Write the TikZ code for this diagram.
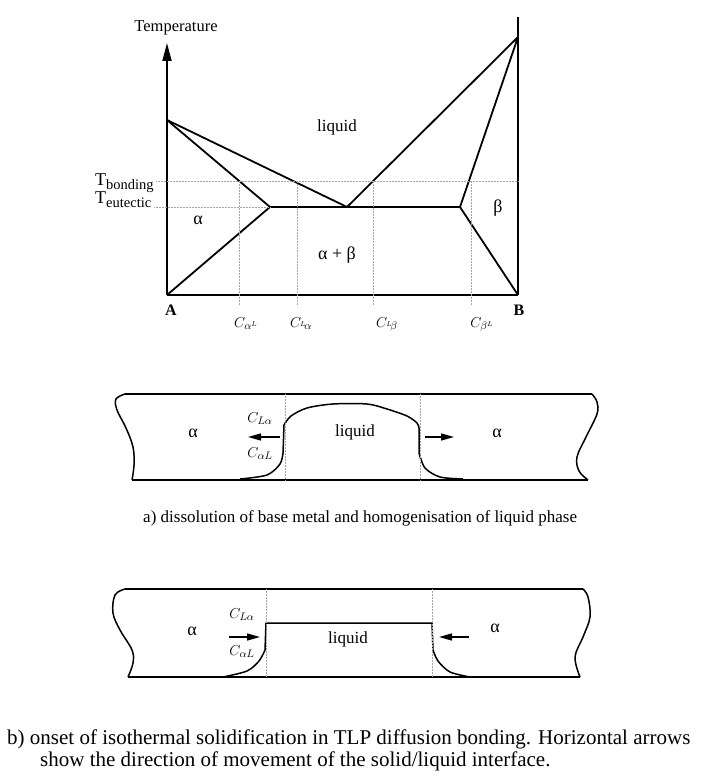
\documentclass[tikz,border=0pt]{standalone}
\usepackage{amsmath}
\usepackage{fontspec}
\setmainfont{Liberation Serif}
\usepackage{tikz}
\usetikzlibrary{arrows.meta, calc}

\begin{document}
\begin{tikzpicture}[
    x=1pt, y=-1pt,
    % line styles
    phase/.style={line width=1.8pt, line join=round},
    guide/.style={densely dotted, gray!70, line width=0.5pt},
    metal/.style={line width=1.5pt, line join=round},
    flow/.style={line width=1.4pt, -{Triangle[length=13pt, width=7pt]}},
    % text styles
    lbl/.style={anchor=base, inner sep=0pt, font=\fontsize{18}{20}\selectfont},
    conc/.style={anchor=base, inner sep=0pt, font=\fontsize{15}{17}\selectfont},
    caption/.style={anchor=base west, inner sep=0pt, font=\fontsize{17}{20}\selectfont}
]
\useasboundingbox (0,0) rectangle (714,775);

% -----------------------------------------------------------
% PHASE DIAGRAM
% -----------------------------------------------------------
\coordinate (A) at (167,295);
\coordinate (B) at (518,295);
\coordinate (Atop) at (167,43);
\coordinate (Btop) at (518,17);
\coordinate (meltA) at (167,120);
\coordinate (meltB) at (518,37);
\coordinate (solA) at (270,207);
\coordinate (eut) at (347,207);
\coordinate (solB) at (460,207);

% axes
\draw[phase, -{Triangle[length=18pt, width=9pt]}] (A) -- (Atop);
\draw[phase] (B) -- (Btop);
\draw[phase] (A) -- (B);

% liquidus, solidus, solvus
\draw[phase] (meltA) -- (eut) -- (meltB) -- (solB) -- (B);
\draw[phase] (meltA) -- (solA) -- (A);
\draw[phase] (solA) -- (solB);

% temperature levels
\coordinate (Tb) at (156,181);
\coordinate (Te) at (154,207);
\draw[guide] (Tb) -- (518,181);
\draw[guide] (Te) -- (solA);

% composition markers
\foreach \cx in {239,297,373,471}
    \draw[guide] (\cx,181) -- (\cx,305);

% labels
\node[lbl, font=\fontsize{16.5}{18}\selectfont] (tlabel) at (176,32) {Temperature};
\node[lbl, font=\fontsize{17}{18}\selectfont] (liqtop) at (337,132) {liquid};
\node[lbl] (alpha) at (198,225) {α};
\node[lbl] (ab) at (337,259) {α + β};
\node[lbl] (beta) at (498,213) {β};
\node[lbl, font=\fontsize{16}{17}\selectfont\bfseries] (Alabel) at (171,315) {A};
\node[lbl, font=\fontsize{16}{17}\selectfont\bfseries] (Blabel) at (519,315) {B};

\node[anchor=base west, inner sep=0pt] (Tbond) at (95,186)
    {\fontsize{18}{18}\selectfont T\raisebox{-4pt}{\fontsize{14.5}{15}\selectfont bonding}};
\node[anchor=base west, inner sep=0pt] (Teut) at (95,204)
    {\fontsize{18}{18}\selectfont T\raisebox{-4pt}{\fontsize{14.5}{15}\selectfont eutectic}};

\node[conc] (caL) at (246,327) {$C_{\alpha^{\scriptscriptstyle L}}$};
\node[conc] (cLa) at (301,327) {$C_{{}^{\scriptscriptstyle L}\!\alpha}$};
\node[conc] (cLb) at (387,327) {$C_{{}^{\scriptscriptstyle L}\!\beta}$};
\node[conc] (cbL) at (482,327) {$C_{\beta^{\scriptscriptstyle L}}$};

% -----------------------------------------------------------
% (a) DISSOLUTION
% -----------------------------------------------------------
\draw[metal] (125,394) -- (592,394);
\draw[metal] (132,480) -- (588,480);
\draw[metal] plot[smooth, tension=0.6] coordinates
    {(125,394) (116,399) (117,410) (126,428) (133,447) (134,465) (132,480)};
\draw[metal] plot[smooth, tension=0.6] coordinates
    {(592,394) (597,402) (597,414) (586,437) (577,457) (579,471) (588,480)};
% liquid zone
\draw[metal] plot[smooth, tension=0.5] coordinates
    {(240,479) (267,475) (280,464) (283,453)}
    -- (284,425)
    plot[smooth, tension=0.5] coordinates
    {(284,425) (291,416) (307,408) (333,404) (367,404) (387,409) (407,416) (417,423) (419,428)}
    -- (419,453)
    plot[smooth, tension=0.5] coordinates
    {(419,453) (425,468) (440,477) (463,479)};
\coordinate (ia1) at (285,394);
\coordinate (ia2) at (420,394);
\draw[guide] (ia1) -- (285,480);
\draw[guide] (ia2) -- (420,480);

\coordinate (aw1) at (280,437);
\coordinate (aw2) at (248,437);
\coordinate (ae1) at (425,437);
\coordinate (ae2) at (454,437);
\draw[flow] (aw1) -- (aw2);
\draw[flow] (ae1) -- (ae2);

\node[lbl] (alphaAL) at (193,437) {α};
\node[lbl, font=\fontsize{17}{18}\selectfont] (liqA) at (355,436) {liquid};
\node[lbl] (alphaAR) at (497,437) {α};
\node[conc] (cLaA) at (260,422) {$C_{L\alpha}$};
\node[conc] (caLA) at (260,457) {$C_{\alpha L}$};

\node[caption] (capA) at (143,522) {a) dissolution of base metal and homogenisation of liquid phase};

% -----------------------------------------------------------
% (b) ISOTHERMAL SOLIDIFICATION
% -----------------------------------------------------------
\draw[metal] (125,589) -- (583,589);
\draw[metal] (128,677) -- (580,677);
\draw[metal] plot[smooth, tension=0.6] coordinates
    {(125,589) (115,595) (113,613) (120,630) (132,650) (133,663) (128,677)};
\draw[metal] plot[smooth, tension=0.6] coordinates
    {(583,589) (588,597) (590,617) (583,637) (575,657) (580,677)};
% liquid zone
\draw[metal] plot[smooth, tension=0.5] coordinates
    {(223,677) (247,671) (259,661) (265,650)}
    -- (266,623) -- (432,623) -- (433,650)
    plot[smooth, tension=0.5] coordinates
    {(433,650) (438,661) (450,672) (470,677)};
\coordinate (ib1) at (266,589);
\coordinate (ib2) at (432,589);
\draw[guide] (ib1) -- (266,677);
\draw[guide] (ib2) -- (432,677);

\coordinate (bw1) at (229,637);
\coordinate (bw2) at (260,637);
\coordinate (be1) at (469,637);
\coordinate (be2) at (439,637);
\draw[flow] (bw1) -- (bw2);
\draw[flow] (be1) -- (be2);

\node[lbl] (alphaBL) at (192,635) {α};
\node[lbl, font=\fontsize{17}{18}\selectfont] (liqB) at (348,643) {liquid};
\node[lbl] (alphaBR) at (495,632) {α};
\node[conc] (cLaB) at (242,618) {$C_{L\alpha}$};
\node[conc] (caLB) at (242,655) {$C_{\alpha L}$};

\node[caption, font=\fontsize{21}{24}\selectfont] (capB1) at (7,744) {b) onset of isothermal solidification in TLP diffusion bonding. Horizontal arrows};
\node[caption, font=\fontsize{21}{24}\selectfont] (capB2) at (40,766) {show the direction of movement of the solid/liquid interface.};

\end{tikzpicture}
\end{document}
